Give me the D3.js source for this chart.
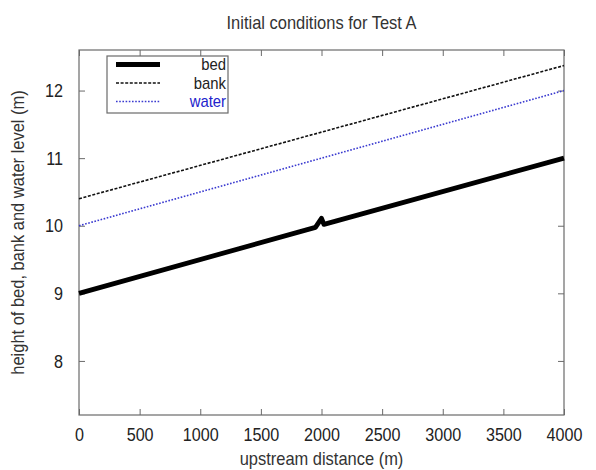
<!DOCTYPE html>
<html>
<head>
<meta charset="utf-8">
<script src="https://cdn.jsdelivr.net/npm/d3@7"></script>
<style>
  html, body { margin: 0; padding: 0; background: #fff; }
  svg { display: block; font-family: "Liberation Sans", Arial, sans-serif; }
</style>
</head>
<body>
<svg id="chart" width="596" height="470"></svg>
<script>
// Initial profile: bed, bank and water level along the reach
const bedX = [0, 1950, 2000, 2020, 4000];
const bedY = [9.0, 9.975, 10.11, 10.02, 11.0];
const bankX = [0, 4000];
const bankY = [10.4, 12.37];
const waterX = [0, 4000];
const waterY = [10.0, 12.0];

const xTicks = [0, 500, 1000, 1500, 2000, 2500, 3000, 3500, 4000];
const yTicks = [8, 9, 10, 11, 12];

const seriesNames = ["bed", "bank", "water"];

const svg = d3.select("#chart");
const plotLeft = 79, plotRight = 564, plotTop = 50, plotBottom = 415;
const fontFamily = "Liberation Sans, Arial, sans-serif";
const narrowTick = "scale(0.85,1)";   // condensed lettering for tick labels
const narrow = "scale(0.89,1)";       // condensed lettering for titles

const x = d3.scaleLinear().domain([0, 4000]).range([plotLeft, plotRight]);
const y = d3.scaleLinear().domain([7.2, 12.6]).range([plotBottom, plotTop]);

const frameColor = "#6a6a6a";
const textColor = "#222";

// Plot frame
svg.append("rect")
  .attr("x", plotLeft).attr("y", plotTop)
  .attr("width", plotRight - plotLeft).attr("height", plotBottom - plotTop)
  .attr("fill", "none").attr("stroke", frameColor).attr("stroke-width", 1.2);

// Axes: inward ticks on all four sides
function styleAxis(g) {
  g.select(".domain").remove();
  g.selectAll(".tick line").attr("stroke", frameColor).attr("stroke-width", 1);
  g.selectAll(".tick text").attr("fill", textColor).attr("font-size", 19)
    .attr("font-family", fontFamily);
}

svg.append("g").attr("transform", `translate(0,${plotBottom})`)
  .call(d3.axisBottom(x).tickValues(xTicks).tickSize(-6).tickPadding(13).tickFormat(d3.format("d")))
  .call(styleAxis)
  .call(g => g.selectAll(".tick text").attr("transform", narrowTick));
svg.append("g").attr("transform", `translate(0,${plotTop})`)
  .call(d3.axisTop(x).tickValues(xTicks).tickSize(-6).tickFormat(""))
  .call(styleAxis);
svg.append("g").attr("transform", `translate(${plotLeft},0)`)
  .call(d3.axisLeft(y).tickValues(yTicks).tickSize(-6).tickPadding(16).tickFormat(d3.format("d")))
  .call(styleAxis)
  .call(g => g.selectAll(".tick text").attr("x", 0).attr("transform", `translate(-16,0) ${narrowTick}`));
svg.append("g").attr("transform", `translate(${plotRight},0)`)
  .call(d3.axisRight(y).tickValues(yTicks).tickSize(-6).tickFormat(""))
  .call(styleAxis);

// Series
const line = d3.line().x(d => x(d[0])).y(d => y(d[1]));
const zip = (a, b) => a.map((v, i) => [v, b[i]]);

const styles = {
  bed:   { color: "#000", width: 4.8, dash: null },
  bank:  { color: "#111", width: 1.6, dash: "3,1.6" },
  water: { color: "#3a3ad0", width: 1.6, dash: "1.6,1.6" }
};

const plot = svg.append("g");
plot.append("path").datum(zip(bedX, bedY)).attr("d", line)
  .attr("fill", "none").attr("stroke", styles.bed.color).attr("stroke-width", styles.bed.width)
  .attr("stroke-linejoin", "round");
plot.append("path").datum(zip(bankX, bankY)).attr("d", line)
  .attr("fill", "none").attr("stroke", styles.bank.color).attr("stroke-width", styles.bank.width)
  .attr("stroke-dasharray", styles.bank.dash);
plot.append("path").datum(zip(waterX, waterY)).attr("d", line)
  .attr("fill", "none").attr("stroke", styles.water.color).attr("stroke-width", styles.water.width)
  .attr("stroke-dasharray", styles.water.dash);

// Legend
const lg = svg.append("g");
lg.append("rect").attr("x", 107).attr("y", 56).attr("width", 121).attr("height", 57)
  .attr("fill", "#fff").attr("stroke", frameColor).attr("stroke-width", 1.2);
seriesNames.forEach((name, i) => {
  const s = styles[name];
  const ly = 64.5 + i * 18.5;
  lg.append("line").attr("x1", 116).attr("x2", 160).attr("y1", ly).attr("y2", ly)
    .attr("stroke", s.color).attr("stroke-width", s.width)
    .attr("stroke-dasharray", s.dash);
  lg.append("text").attr("transform", `translate(226,${ly + 5.5}) scale(0.93,1)`)
    .attr("text-anchor", "end")
    .attr("font-size", 16).attr("font-family", fontFamily)
    .attr("fill", name === "water" ? "#2222cc" : textColor)
    .text(name);
});

// Titles
svg.append("text").attr("transform", `translate(${(plotLeft + plotRight) / 2},29) ${narrow}`)
  .attr("text-anchor", "middle")
  .attr("font-size", 18.5).attr("font-family", fontFamily).attr("fill", "#333")
  .text("Initial conditions for Test A");
svg.append("text").attr("transform", `translate(${(plotLeft + plotRight) / 2},465) ${narrow}`)
  .attr("text-anchor", "middle")
  .attr("font-size", 18.5).attr("font-family", fontFamily).attr("fill", "#333")
  .text("upstream distance (m)");
svg.append("text")
  .attr("transform", `translate(24,${(plotTop + plotBottom) / 2}) rotate(-90) ${narrow}`)
  .attr("text-anchor", "middle").attr("font-size", 18.5).attr("font-family", fontFamily)
  .attr("fill", "#333")
  .text("height of bed, bank and water level (m)");
</script>
</body>
</html>
